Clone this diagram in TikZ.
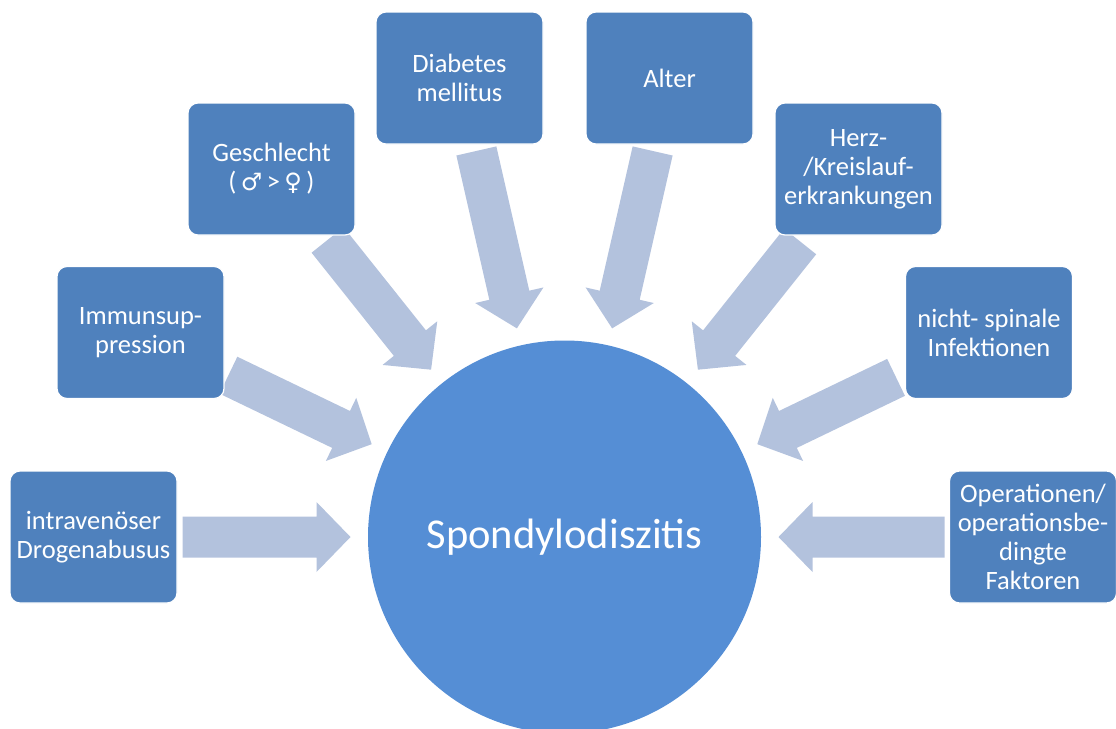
\documentclass[tikz,border=0pt]{standalone}
\usepackage{fontspec}
\setmainfont{Carlito}
\newfontfamily\symfont{DejaVu Sans}
\definecolor{boxblue}{HTML}{4F81BD}
\definecolor{circblue}{HTML}{558ED5}
\definecolor{arrowblue}{HTML}{B3C2DD}
\tikzset{
  factor/.style={rounded corners=10pt, fill=boxblue, draw=white, line width=1.2pt,
    minimum width=167pt, minimum height=132pt, inner sep=0pt, text=white, align=center,
    font=\fontsize{26.5}{29}\selectfont},
  hub/.style={circle, fill=circblue, draw=none, minimum size=393pt, inner sep=0pt,
    text=white, font=\fontsize{42.5}{48}\selectfont},
  blockarrow/.style={fill=arrowblue, draw=none}
}
\newcommand\radarrow[2]{%
  \fill[blockarrow, shift={(c.center)}, rotate=#1]
    (214,0) -- (248,35) -- (248,20.5) -- (#2,20.5) -- (#2,-20.5) -- (248,-20.5) -- (248,-35) -- cycle;}
\newcommand\gsym[1]{{\symfont\fontsize{24}{29}\selectfont #1}}
\begin{document}
\begin{tikzpicture}[x=1pt,y=-1pt]
\useasboundingbox (0,0) rectangle (1116,728);
\clip (0,0) rectangle (1116,728);
\node[hub] (c) at (564.5,537) {Spondylodiszitis};
\radarrow{180}{382}
\radarrow{154.29}{373}
\radarrow{128.57}{380}
\radarrow{102.86}{396}
\radarrow{77.14}{396}
\radarrow{51.43}{378}
\radarrow{25.71}{368}
\radarrow{0}{380}
\node[factor] (b1) at (93.5,537) {intravenöser\\Drogenabusus};
\node[factor] (b2) at (140.5,332.5) {Immunsup-\\pression};
\node[factor] (b3) at (271.5,169) {Geschlecht\\(\,\gsym{♂}\,>\,\gsym{♀}\,)};
\node[factor] (b4) at (459.5,78) {Diabetes\\mellitus};
\node[factor] (b5) at (669.5,78) {Alter};
\node[factor] (b6) at (858.5,169) {Herz-\\/Kreislauf-\\erkrankungen};
\node[factor] (b7) at (989,332.5) {nicht- spinale\\Infektionen};
\node[factor] (b8) at (1033,537) {Operationen/\\operationsbe-\\dingte\\Faktoren};
\end{tikzpicture}
\end{document}
